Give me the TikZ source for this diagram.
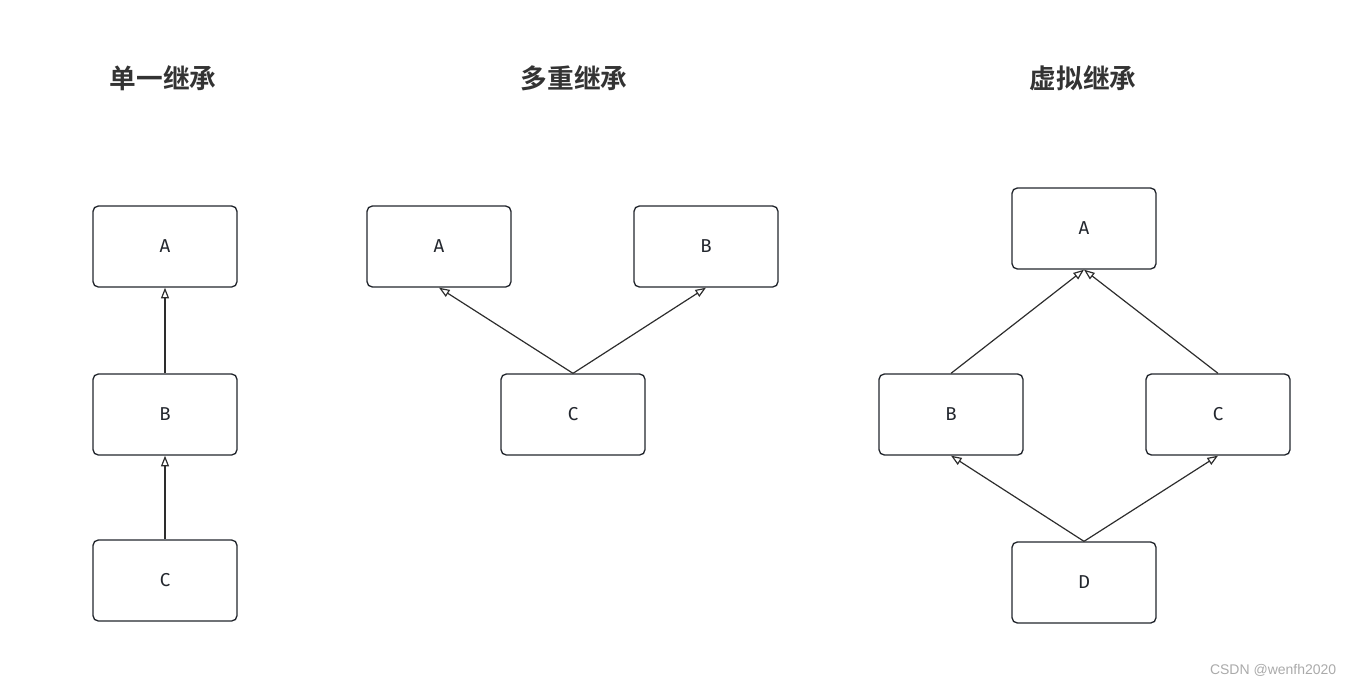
\documentclass[tikz,border=0pt]{standalone}
\usepackage{fontspec}
\setmainfont{Liberation Sans}
\newfontfamily\cjkbold[BoldFont={Noto Sans CJK SC Bold}]{Noto Sans CJK SC}
\newfontfamily\lblfont{Fira Sans}
\definecolor{umlline} {RGB}{45,45,45}
\definecolor{umlbox}  {RGB}{35,39,46}
\definecolor{umltitle}{RGB}{51,51,51}
\definecolor{umlmark} {RGB}{170,170,170}
\usetikzlibrary{arrows.meta,positioning}
\tikzset{
  cls/.style={rectangle,rounded corners=4pt,draw=umlbox,line width=1pt,
              fill=white,minimum width=108pt,minimum height=60.75pt,
              inner sep=0pt,font=\lblfont\fontsize{14}{16}\selectfont,text=umlbox},
  inh/.style={-{Triangle[open,length=8pt,width=6pt]},umlline,line width=0.9pt},
  ttl/.style={font=\cjkbold\bfseries\fontsize{20}{24}\selectfont,text=umltitle},
}
\begin{document}
\begin{tikzpicture}[x=0.75pt,y=-0.75pt]
    \useasboundingbox (0,0) rectangle (1355,686);
    % titles
    \node[ttl] (t1) at (163,78) {单一继承};
    \node[ttl] (t2) at (574,78) {多重继承};
    \node[ttl] (t3) at (1083,78) {虚拟继承};
    % single inheritance
    \node[cls] (sa) at (165,246.5) {A};
    \node[cls] (sb) at (165,414.5) {B};
    \node[cls] (sc) at (165,580.5) {C};
    \draw[inh] (sb.north) -- (sa.south);
    \draw[inh] (sc.north) -- (sb.south);
    % multiple inheritance
    \node[cls] (ma) at (439,246.5) {A};
    \node[cls] (mb) at (706,246.5) {B};
    \node[cls] (mc) at (573,414.5) {C};
    \draw[inh] (mc.north) -- (ma.south);
    \draw[inh] (mc.north) -- (mb.south);
    % virtual inheritance
    \node[cls] (va) at (1084,228.5) {A};
    \node[cls] (vb) at (951,414.5) {B};
    \node[cls] (vc) at (1218,414.5) {C};
    \node[cls] (vd) at (1084,582.5) {D};
    \draw[inh] (vb.north) -- (va.south);
    \draw[inh] (vc.north) -- (va.south);
    \draw[inh] (vd.north) -- (vb.south);
    \draw[inh] (vd.north) -- (vc.south);
    % watermark
    \node[anchor=east,text=umlmark,font=\fontsize{10.5}{12}\selectfont] (wm) at (1341,670) {CSDN @wenfh2020};
\end{tikzpicture}
\end{document}
